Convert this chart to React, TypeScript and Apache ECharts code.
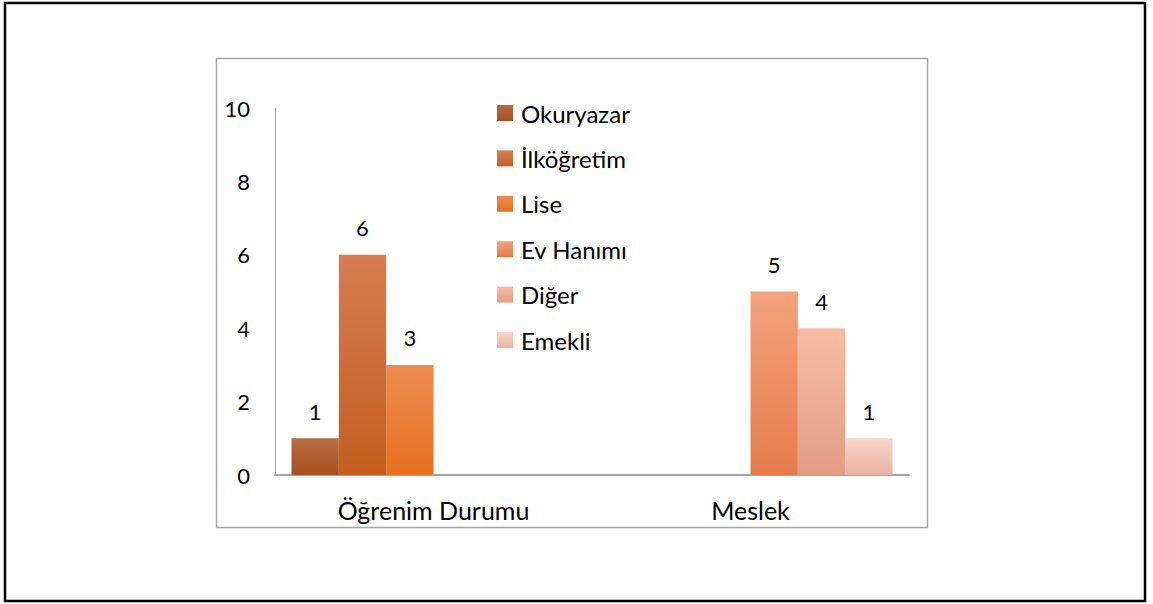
import React, { useEffect, useRef } from "react";
import * as echarts from "echarts";

const categories = ["Öğrenim Durumu", "Meslek"];
const seriesNames = ["Okuryazar", "İlköğretim", "Lise", "Ev Hanımı", "Diğer", "Emekli"];
const okuryazar = [1, null];
const ilkogretim = [6, null];
const lise = [3, null];
const evHanimi = [null, 5];
const diger = [null, 4];
const emekli = [null, 1];
const yTicks = { min: 0, max: 10, interval: 2 };

const seriesValues = [okuryazar, ilkogretim, lise, evHanimi, diger, emekli];
const gradients: [string, string][] = [
  ["#B86B43", "#A8511D"],
  ["#D57D50", "#C45E1F"],
  ["#EC8C50", "#E5701E"],
  ["#F2A27C", "#E57C4A"],
  ["#F6BCA4", "#E29D85"],
  ["#F9D6C8", "#E7B2A2"],
];

const FONT = "Lato, 'Noto Sans', sans-serif";

export default function App() {
  const ref = useRef<HTMLDivElement>(null);
  useEffect(() => {
    if (!ref.current) return;
    const chart = echarts.init(ref.current, undefined, { renderer: "svg" });
    chart.setOption({
      animation: false,
      backgroundColor: "#ffffff",
      textStyle: { fontFamily: FONT, color: "#000" },
      graphic: [
        {
          type: "rect",
          shape: { x: 5, y: 3, width: 1140, height: 598 },
          style: { fill: "none", stroke: "#000", lineWidth: 2.5 },
          silent: true,
        },
        {
          type: "rect",
          shape: { x: 216.5, y: 58.5, width: 711, height: 469 },
          style: { fill: "none", stroke: "#A6A6A6", lineWidth: 1.5 },
          silent: true,
        },
      ],
      legend: {
        orient: "vertical",
        left: 497,
        top: 101,
        padding: 0,
        itemWidth: 16,
        itemHeight: 16,
        itemGap: 21.4,
        icon: "rect",
        data: seriesNames,
        textStyle: {
          fontFamily: FONT,
          fontSize: 24,
          lineHeight: 24,
          color: "#000",
          padding: [0, 0, 0, 3],
        },
      },
      grid: { left: 275, top: 108, right: 244, bottom: 129, containLabel: false },
      xAxis: {
        type: "category",
        data: categories,
        axisLine: { lineStyle: { color: "#A6A6A6", width: 2 } },
        axisTick: { show: false },
        axisLabel: { fontFamily: FONT, fontSize: 25, color: "#000", margin: 22 },
      },
      yAxis: {
        type: "value",
        min: yTicks.min,
        max: yTicks.max,
        interval: yTicks.interval,
        splitLine: { show: false },
        axisLine: { show: true, lineStyle: { color: "#A0A0A0", width: 1 } },
        axisTick: { show: false },
        axisLabel: { fontFamily: FONT, fontSize: 22, color: "#000", margin: 25 },
      },
      series: seriesNames.map((name, i) => ({
        name,
        type: "bar",
        data: seriesValues[i],
        barGap: "0%",
        barCategoryGap: "10.4%",
        itemStyle: {
          color: new echarts.graphic.LinearGradient(0, 0, 0, 1, [
            { offset: 0, color: gradients[i][0] },
            { offset: 1, color: gradients[i][1] },
          ]),
        },
        label: {
          show: true,
          position: "top",
          distance: 16,
          fontFamily: FONT,
          fontSize: 22,
          color: "#000",
        },
      })),
    });
    return () => chart.dispose();
  }, []);
  return (
    <div
      ref={ref}
      style={{ position: "fixed", left: 0, top: 0, width: 1153, height: 604 }}
    />
  );
}
